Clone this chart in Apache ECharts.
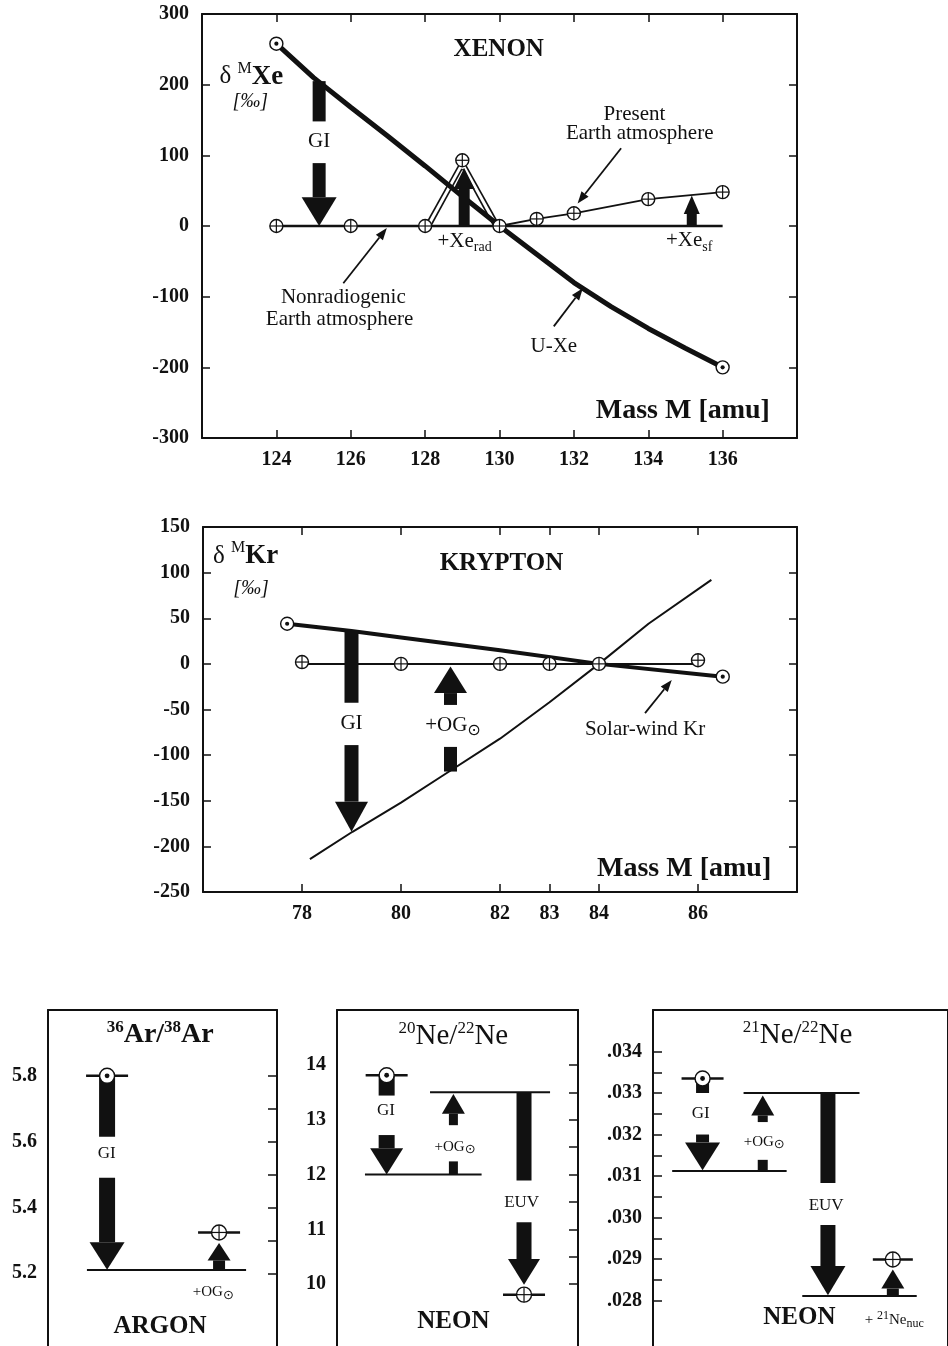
<!DOCTYPE html>
<html>
<head>
<meta charset="utf-8">
<script src="https://cdn.jsdelivr.net/npm/echarts@6/dist/echarts.min.js"></script>
<style>
html, body { margin: 0; padding: 0; background: #fff; }
#chart { width: 948px; height: 1346px; }
</style>
</head>
<body>
<div id="chart"></div>
<script>
// ================= data =================
// Xenon: delta^M Xe (permil) against mass number
const xeMassTicks = [124, 126, 128, 130, 132, 134, 136];
const xeDeltaTicks = [-300, -200, -100, 0, 100, 200, 300];
const xeUXe = [[124, 258], [125, 210], [126, 168], [127, 127], [128, 85], [129, 42], [130, 0],
               [131, -40], [132, -80], [133, -114], [134, -145], [135, -173], [136, -200]];
const xeSolarPoints = [[124, 258], [136, -200]];
const xeNonradLine = [[124, 0], [136, 0]];
const xeNonradPoints = [[124, 0], [126, 0], [128, 0], [130, 0]];
const xePresentLine = [[130, 0], [131, 10], [132, 18], [134, 38], [136, 48]];
const xePresentPoints = [[129, 93], [131, 10], [132, 18], [134, 38], [136, 48]];
const xeRadTent = [
  [[128, 0], [128.93, 88]], [[128.15, 0], [128.99, 81]],
  [[129.01, 81], [129.85, 0]], [[129.07, 88], [130, 0]]
];
// arrows: [mass, tail, head base, tip, gap start, gap end]
const xeArrows = [
  [125.15, 205, 40.7, 0, 148, 89],   // GI
  [129.05, 0, 52.5, 82, 0, 0],       // +Xe rad
  [135.17, 0, 17, 43, 0, 0]          // +Xe sf
];
// pointer lines: [x0, y0, x1, y1]
const xePointers = [[133.27, 110, 132.1, 32], [125.8, -81, 126.97, -3], [131.46, -142, 132.24, -88]];

// Krypton: delta^M Kr (permil) against mass number
const krMassTicks = [78, 80, 82, 83, 84, 86];
const krDeltaTicks = [-250, -200, -150, -100, -50, 0, 50, 100, 150];
const krSolarWind = [[77.7, 44], [79, 36], [80, 29], [82, 15], [84, 0], [86.5, -14]];
const krSolarPoints = [[77.7, 44], [86.5, -14]];
const krAtmLine = [[78, 0], [86, 0]];
const krAtmPoints = [[78, 2], [80, 0], [82, 0], [83, 0], [84, 0], [86, 4]];
const krFracLine = [[78.16, -214], [79.02, -184], [80, -152], [80.8, -124], [82, -82],
                    [83, -42], [84, 0], [85, 44], [86.27, 92]];
const krArrows = [
  [79.0, 36, -151, -184, -42.5, -89],   // GI
  [81.0, -118, -32, -3, -91, -45]       // +OG sun
];
const krPointers = [[84.93, -54, 85.47, -17.6]];

// Argon: 36Ar/38Ar
const arTicks = [5.2, 5.3, 5.4, 5.5, 5.6, 5.7, 5.8];
const arLabels = [5.2, 5.4, 5.6, 5.8];
const arSolar = [[25.8, 5.80]];
const arEarth = [[74.7, 5.324]];
const arLevels = [[[17.0, 5.21], [86.5, 5.21]]];
const arArrows = [
  [25.8, 5.80, 5.294, 5.211, 5.615, 5.49],
  [74.7, 5.21, 5.239, 5.292, 5.21, 5.21]
];

// Neon: 20Ne/22Ne
const ne20Ticks = [10, 10.5, 11, 11.5, 12, 12.5, 13, 13.5, 14];
const ne20Labels = [10, 11, 12, 13, 14];
const ne20Solar = [[20.6, 13.81]];
const ne20Earth = [[77.6, 9.81]];
const ne20Levels = [[[11.6, 12.0], [60.0, 12.0]], [[38.6, 13.5], [88.4, 13.5]]];
const ne20Arrows = [
  [20.6, 13.81, 12.48, 12.0, 13.44, 12.72],
  [48.3, 12.0, 13.11, 13.47, 12.24, 12.9],
  [77.6, 13.5, 10.46, 9.99, 11.89, 11.13]
];

// Neon: 21Ne/22Ne
const ne21Ticks = [0.028, 0.0285, 0.029, 0.0295, 0.030, 0.0305, 0.031, 0.0315, 0.032, 0.0325, 0.033, 0.0335, 0.034];
const ne21Labels = [0.028, 0.029, 0.030, 0.031, 0.032, 0.033, 0.034];
const ne21Solar = [[16.8, 0.03335]];
const ne21Earth = [[81.3, 0.02899]];
const ne21Levels = [[[6.5, 0.03112], [45.3, 0.03112]], [[30.7, 0.03300], [70, 0.03300]], [[50.6, 0.02811], [89.4, 0.02811]]];
const ne21Arrows = [
  [16.8, 0.03335, 0.03181, 0.03114, 0.03300, 0.0320],
  [37.2, 0.03112, 0.03246, 0.03294, 0.03139, 0.0323],
  [59.3, 0.03300, 0.02883, 0.02813, 0.03083, 0.02982],
  [81.3, 0.02811, 0.02829, 0.02875, 0.02811, 0.02811]
];

// ================= styling helpers =================
const F = 'Liberation Serif';
const INK = '#111';
const RICH = {
  r:   { fontFamily: F, fontSize: 21, lineHeight: 26, fill: INK, color: INK },
  rs:  { fontFamily: F, fontSize: 17, lineHeight: 22, fill: INK, color: INK },
  rx:  { fontFamily: F, fontSize: 15, lineHeight: 20, fill: INK, color: INK },
  it:  { fontFamily: F, fontSize: 20, fontStyle: 'italic', lineHeight: 26, fill: INK, color: INK },
  b:   { fontFamily: F, fontSize: 25, fontWeight: 'bold', lineHeight: 30, fill: INK, color: INK },
  bt:  { fontFamily: F, fontSize: 25, fontWeight: 'bold', lineHeight: 30, fill: INK, color: INK },
  bT:  { fontFamily: F, fontSize: 28, fontWeight: 'bold', lineHeight: 32, fill: INK, color: INK },
  m:   { fontFamily: F, fontSize: 28, fontWeight: 'bold', lineHeight: 32, fill: INK, color: INK },
  d:   { fontFamily: F, fontSize: 25, lineHeight: 32, fill: INK, color: INK },
  sup: { fontFamily: F, fontSize: 16, lineHeight: 16, verticalAlign: 'top', fill: INK, color: INK },
  supb:{ fontFamily: F, fontSize: 17, fontWeight: 'bold', lineHeight: 15, verticalAlign: 'top', fill: INK, color: INK },
  sups:{ fontFamily: F, fontSize: 12, lineHeight: 11, verticalAlign: 'top', fill: INK, color: INK },
  supn:{ fontFamily: F, fontSize: 17, lineHeight: 15, verticalAlign: 'top', fill: INK, color: INK },
  bn:  { fontFamily: F, fontSize: 29, lineHeight: 32, fill: INK, color: INK },
  bx:  { fontFamily: F, fontSize: 27, fontWeight: 'bold', lineHeight: 32, fill: INK, color: INK },
  sub: { fontFamily: F, fontSize: 14, lineHeight: 14, verticalAlign: 'bottom', fill: INK, color: INK },
  subs:{ fontFamily: F, fontSize: 12, lineHeight: 12, verticalAlign: 'bottom', fill: INK, color: INK },
  sun: { fontFamily: 'DejaVu Sans', fontSize: 16, lineHeight: 16, verticalAlign: 'bottom', fill: INK, color: INK },
  suns:{ fontFamily: 'DejaVu Sans', fontSize: 13, lineHeight: 13, verticalAlign: 'bottom', fill: INK, color: INK }
};

const axisLine = { show: true, onZero: false, lineStyle: { color: INK, width: 2 } };
const tickFont = { fontFamily: F, fontWeight: 'bold', fontSize: 20, color: INK };

function mainAxes(k, xMin, xMax, xTicks, yMin, yMax, yTicks) {
  const tick = (vals) => ({ show: true, inside: true, length: 8, customValues: vals, lineStyle: { color: INK, width: 1.5 } });
  return {
    x: [
      { gridIndex: k, type: 'value', min: xMin, max: xMax, position: 'bottom', axisLine, axisTick: tick(xTicks),
        axisLabel: Object.assign({ customValues: xTicks, margin: 12 }, tickFont), splitLine: { show: false } },
      { gridIndex: k, type: 'value', min: xMin, max: xMax, position: 'top', axisLine, axisTick: tick(xTicks),
        axisLabel: { show: false }, splitLine: { show: false } }
    ],
    y: [
      { gridIndex: k, type: 'value', min: yMin, max: yMax, position: 'left', axisLine, axisTick: tick(yTicks),
        axisLabel: Object.assign({ customValues: yTicks, margin: 13 }, tickFont), splitLine: { show: false } },
      { gridIndex: k, type: 'value', min: yMin, max: yMax, position: 'right', axisLine, axisTick: tick(yTicks),
        axisLabel: { show: false }, splitLine: { show: false } }
    ]
  };
}

function boxAxes(k, yMin, yMax, labels, fmt, leftTicks, rightTicks) {
  const tick = (vals) => vals ? { show: true, inside: true, length: 9, customValues: vals, lineStyle: { color: INK, width: 1.5 } } : { show: false };
  return {
    x: [
      { gridIndex: k, type: 'value', min: 0, max: 100, show: false, axisLine: { onZero: false } },
      { gridIndex: k, type: 'value', min: 0, max: 100, position: 'top', axisLine, axisTick: { show: false },
        axisLabel: { show: false }, splitLine: { show: false } }
    ],
    y: [
      { gridIndex: k, type: 'value', min: yMin, max: yMax, position: 'left', axisLine, axisTick: tick(leftTicks),
        axisLabel: Object.assign({ customValues: labels, margin: 11, formatter: fmt }, tickFont), splitLine: { show: false } },
      { gridIndex: k, type: 'value', min: yMin, max: yMax, position: 'right', axisLine, axisTick: tick(rightTicks),
        axisLabel: { show: false }, splitLine: { show: false } }
    ]
  };
}

function lineSeries(k, data, width) {
  return { type: 'line', xAxisIndex: 2 * k, yAxisIndex: 2 * k, data, symbol: 'none', showSymbol: false,
           lineStyle: { color: INK, width }, silent: true, clip: false, z: 3, animation: false };
}

function markerSeries(k, pts, kind, r, barHalf) {
  return {
    type: 'custom', xAxisIndex: 2 * k, yAxisIndex: 2 * k, coordinateSystem: 'cartesian2d', clip: false, silent: true, z: 8,
    data: pts,
    renderItem: (params, api) => {
      const p = api.coord([api.value(0), api.value(1)]);
      const children = [];
      if (barHalf) {
        children.push({ type: 'line', shape: { x1: p[0] - barHalf, y1: p[1], x2: p[0] + barHalf, y2: p[1] },
                        style: { stroke: INK, lineWidth: 2.5 } });
      }
      children.push({ type: 'circle', shape: { cx: p[0], cy: p[1], r }, style: { fill: '#fff', stroke: INK, lineWidth: 1.4 } });
      if (kind === 'earth') {
        children.push({ type: 'line', shape: { x1: p[0] - r, y1: p[1], x2: p[0] + r, y2: p[1] }, style: { stroke: INK, lineWidth: 1.2 } });
        children.push({ type: 'line', shape: { x1: p[0], y1: p[1] - r, x2: p[0], y2: p[1] + r }, style: { stroke: INK, lineWidth: 1.2 } });
      } else {
        children.push({ type: 'circle', shape: { cx: p[0], cy: p[1], r: r * 0.32 }, style: { fill: INK } });
      }
      return { type: 'group', children };
    }
  };
}

// block arrows: shaft (optionally split by a gap for a label) and a triangular head
function arrowSeries(k, arrows, widths) {
  return {
    type: 'custom', xAxisIndex: 2 * k, yAxisIndex: 2 * k, coordinateSystem: 'cartesian2d', clip: false, silent: true, z: 6,
    data: arrows,
    renderItem: (params, api) => {
      const [sw, hw] = widths[params.dataIndex];
      const x = api.value(0);
      const yOf = (v) => api.coord([x, v])[1];
      const px = api.coord([x, api.value(1)])[0];
      const tail = yOf(api.value(1)), base = yOf(api.value(2)), tip = yOf(api.value(3));
      const g0 = yOf(api.value(4)), g1 = yOf(api.value(5));
      const seg = (a, b) => ({ type: 'rect', shape: { x: px - sw / 2, y: Math.min(a, b), width: sw, height: Math.abs(b - a) },
                               style: { fill: INK } });
      return { type: 'group', children: [
        seg(tail, g0), seg(g1, base),
        { type: 'polygon', shape: { points: [[px - hw / 2, base], [px + hw / 2, base], [px, tip]] }, style: { fill: INK } }
      ] };
    }
  };
}

// thin pointer lines ending in a small filled head
function pointerSeries(k, ptrs) {
  return {
    type: 'custom', xAxisIndex: 2 * k, yAxisIndex: 2 * k, coordinateSystem: 'cartesian2d', clip: false, silent: true, z: 7,
    data: ptrs,
    renderItem: (params, api) => {
      const a = api.coord([api.value(0), api.value(1)]);
      const b = api.coord([api.value(2), api.value(3)]);
      const dx = b[0] - a[0], dy = b[1] - a[1], L = Math.hypot(dx, dy);
      const ux = dx / L, uy = dy / L, hl = 12, hw = 4.5;
      const bx = b[0] - ux * hl, by = b[1] - uy * hl;
      return { type: 'group', children: [
        { type: 'line', shape: { x1: a[0], y1: a[1], x2: bx, y2: by }, style: { stroke: INK, lineWidth: 1.8 } },
        { type: 'polygon', shape: { points: [[b[0], b[1]], [bx - uy * hw, by + ux * hw], [bx + uy * hw, by - ux * hw]] },
          style: { fill: INK } }
      ] };
    }
  };
}

function textSeries(k, items) {
  return {
    type: 'custom', xAxisIndex: 2 * k, yAxisIndex: 2 * k, coordinateSystem: 'cartesian2d', clip: false, silent: true, z: 9,
    data: items.map(it => it.at),
    renderItem: (params, api) => {
      const it = items[params.dataIndex];
      const p = api.coord([api.value(0), api.value(1)]);
      return { type: 'text', x: p[0], y: p[1],
               style: { text: it.text, rich: RICH, align: 'center', verticalAlign: 'middle', fill: INK } };
    }
  };
}

// ================= labels =================
const xeText = [
  { at: [129.98, 250], text: '{b|XENON}' },
  { at: [123.33, 211], text: '{d|δ }{sup|M}{bx|Xe}' },
  { at: [123.3, 176], text: '{it|[‰]}' },
  { at: [125.15, 119.7], text: '{r|GI}' },
  { at: [129.06, -22], text: '{r|+Xe}{sub|rad}' },
  { at: [135.1, -21], text: '{r|+Xe}{sub|sf}' },
  { at: [133.63, 157.5], text: '{r|Present}' },
  { at: [133.77, 131.5], text: '{r|Earth atmosphere}' },
  { at: [125.8, -101], text: '{r|Nonradiogenic}' },
  { at: [125.7, -132], text: '{r|Earth atmosphere}' },
  { at: [131.46, -171], text: '{r|U-Xe}' },
  { at: [134.93, -261], text: '{m|Mass M [amu]}' }
];
const krText = [
  { at: [82.03, 110], text: '{b|KRYPTON}' },
  { at: [76.86, 118], text: '{d|δ }{sup|M}{bx|Kr}' },
  { at: [76.97, 82], text: '{it|[‰]}' },
  { at: [79.0, -65], text: '{r|GI}' },
  { at: [81.05, -68], text: '{r|+OG}{sun|⊙}' },
  { at: [84.93, -72.4], text: '{r|Solar-wind Kr}' },
  { at: [85.72, -225], text: '{m|Mass M [amu]}' }
];
const arText = [
  { at: [49.0, 5.925], text: '{supb|36}{bT|Ar/}{supb|38}{bT|Ar}' },
  { at: [25.6, 5.565], text: '{rs|GI}' },
  { at: [72.2, 5.144], text: '{rx|+OG}{suns|⊙}' },
  { at: [48.9, 5.039], text: '{bt|ARGON}' }
];
const ne20Text = [
  { at: [48.3, 14.52], text: '{supn|20}{bn|Ne/}{supn|22}{bn|Ne}' },
  { at: [20.3, 13.17], text: '{rs|GI}' },
  { at: [49.0, 12.51], text: '{rx|+OG}{suns|⊙}' },
  { at: [76.6, 11.49], text: '{rs|EUV}' },
  { at: [48.3, 9.32], text: '{bt|NEON}' }
];
const ne21Text = [
  { at: [49.0, 0.03440], text: '{supn|21}{bn|Ne/}{supn|22}{bn|Ne}' },
  { at: [16.2, 0.0325], text: '{rs|GI}' },
  { at: [37.7, 0.03183], text: '{rx|+OG}{suns|⊙}' },
  { at: [58.7, 0.03028], text: '{rs|EUV}' },
  { at: [49.6, 0.02758], text: '{bt|NEON}' },
  { at: [81.8, 0.02754], text: '{rx|+ }{sups|21}{rx|Ne}{subs|nuc}' }
];

// ================= assemble =================
const xe = mainAxes(0, 122, 138, xeMassTicks, -300, 300, xeDeltaTicks);
const kr = mainAxes(1, 76, 88, krMassTicks, -250, 150, krDeltaTicks);
const ar = boxAxes(2, 4.979, 6.0, arLabels, v => v.toFixed(1), null, arTicks);
const n20 = boxAxes(3, 8.874, 15, ne20Labels, v => String(Math.round(v)), null, ne20Ticks);
const n21 = boxAxes(4, 0.026905, 0.035, ne21Labels, v => v.toFixed(3).replace(/^0/, ''), ne21Ticks, null);

const series = [
  // xenon
  lineSeries(0, xeNonradLine, 2.5),
  lineSeries(0, xePresentLine, 1.8),
  ...xeRadTent.map(s => lineSeries(0, s, 1.6)),
  lineSeries(0, xeUXe, 5),
  arrowSeries(0, xeArrows, [[13, 35], [11, 21], [10, 16]]),
  pointerSeries(0, xePointers),
  markerSeries(0, xeNonradPoints, 'earth', 6.5, 0),
  markerSeries(0, xePresentPoints, 'earth', 6.5, 0),
  markerSeries(0, xeSolarPoints, 'sun', 6.5, 0),
  textSeries(0, xeText),
  // krypton
  lineSeries(1, krAtmLine, 2),
  lineSeries(1, krFracLine, 2),
  lineSeries(1, krSolarWind, 4),
  arrowSeries(1, krArrows, [[14, 33], [13, 33]]),
  pointerSeries(1, krPointers),
  markerSeries(1, krAtmPoints, 'earth', 6.5, 0),
  markerSeries(1, krSolarPoints, 'sun', 6.5, 0),
  textSeries(1, krText),
  // argon
  ...arLevels.map(s => lineSeries(2, s, 2)),
  arrowSeries(2, arArrows, [[16, 35], [12, 23]]),
  markerSeries(2, arSolar, 'sun', 7.5, 21),
  markerSeries(2, arEarth, 'earth', 7.5, 21),
  textSeries(2, arText),
  // neon 20/22
  ...ne20Levels.map(s => lineSeries(3, s, 2)),
  arrowSeries(3, ne20Arrows, [[16, 33], [9, 23], [15, 32]]),
  markerSeries(3, ne20Solar, 'sun', 7.5, 21),
  markerSeries(3, ne20Earth, 'earth', 7.5, 21),
  textSeries(3, ne20Text),
  // neon 21/22
  ...ne21Levels.map(s => lineSeries(4, s, 2)),
  arrowSeries(4, ne21Arrows, [[13, 35], [10, 23], [15, 35], [12, 23]]),
  markerSeries(4, ne21Solar, 'sun', 7.5, 21),
  markerSeries(4, ne21Earth, 'earth', 7.5, 20),
  textSeries(4, ne21Text)
];

const chart = echarts.init(document.getElementById('chart'), null, { renderer: 'canvas' });
chart.setOption({
  animation: false,
  backgroundColor: '#fff',
  grid: [
    { left: 202, top: 14, width: 595, height: 424 },
    { left: 203, top: 527, width: 594, height: 365 },
    { left: 48, top: 1010, width: 229, height: 340 },
    { left: 337, top: 1010, width: 241, height: 340 },
    { left: 653, top: 1010, width: 310, height: 340 }
  ],
  xAxis: [...xe.x, ...kr.x, ...ar.x, ...n20.x, ...n21.x],
  yAxis: [...xe.y, ...kr.y, ...ar.y, ...n20.y, ...n21.y],
  series
});
</script>
</body>
</html>
